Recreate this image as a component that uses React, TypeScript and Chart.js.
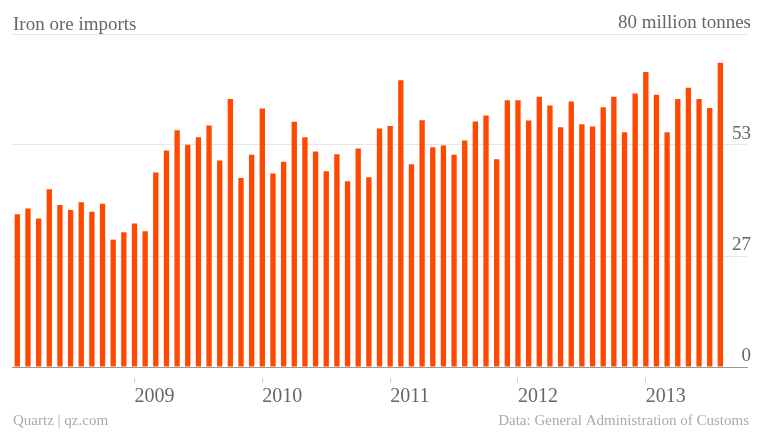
import React, { useEffect, useRef } from 'react';
import { Chart, registerables } from 'chart.js';

Chart.register(...registerables);

// Monthly iron ore imports, million tonnes, Jan 2008 .. Jul 2013
const FIRST_YEAR = 2008;
const importsMt: number[] = [
  36.7, 38.1, 35.7, 42.7, 38.9, 37.7, 39.6, 37.3, 39.2, 30.6, 32.4, 34.5,
  32.6, 46.7, 52.0, 56.9, 53.4, 55.2, 58.0, 49.6, 64.4, 45.4, 51.0, 62.1,
  46.5, 49.3, 58.9, 55.2, 51.8, 47.0, 51.1, 44.6, 52.5, 45.6, 57.3, 57.9,
  68.9, 48.7, 59.3, 52.8, 53.2, 51.0, 54.4, 59.0, 60.4, 49.9, 64.1, 64.1,
  59.2, 64.9, 62.8, 57.6, 63.8, 58.3, 57.8, 62.4, 64.9, 56.4, 65.7, 70.9,
  65.4, 56.4, 64.4, 67.1, 64.4, 62.2, 73.1,
];

// category labels: one per month (data dated at month end)
const months: string[] = importsMt.map((_, i) => {
  const y = FIRST_YEAR + Math.floor(i / 12);
  const m = (i % 12) + 1;
  return `${y}-${String(m).padStart(2, '0')}`;
});
// empty slots on the right, where the value labels sit
const trailingSlots: string[] = ['', ''];
const categories: string[] = [...months, ...trailingSlots];

const yTickValues: number[] = [0, 80 / 3, 160 / 3, 80];
const yTickLabels: string[] = ['0', '27', '53', '80 million tonnes'];

const titleText = 'Iron ore imports';
const creditText = 'Quartz | qz.com';
const sourceText = 'Data: General Administration of Customs';

const BAR_COLOR = '#ff4800';
const FONT = '"Liberation Serif", "Times New Roman", serif';

// year boundary falls on each December (month-end dated) bar
function yearLabel(index: number): string {
  const c = categories[index];
  if (!c) return '';
  const [y, m] = c.split('-');
  return m === '12' ? String(Number(y) + 1) : '';
}

const textPlugin = {
  id: 'qzText',
  afterDraw(chart: any) {
    const ctx = chart.ctx as CanvasRenderingContext2D;
    ctx.save();
    ctx.textBaseline = 'alphabetic';
    ctx.textAlign = 'left';
    ctx.font = `19px ${FONT}`;
    ctx.fillStyle = '#666666';
    ctx.fillText(titleText, 13, 30);
    ctx.font = `15px ${FONT}`;
    ctx.fillStyle = '#aaaaaa';
    ctx.fillText(creditText, 13, 425);
    ctx.textAlign = 'right';
    ctx.fillText(sourceText, 749, 425);
    ctx.restore();
  },
};

export default function App() {
  const canvasRef = useRef<HTMLCanvasElement | null>(null);

  useEffect(() => {
    if (!canvasRef.current) return;
    const chart = new Chart(canvasRef.current, {
      type: 'bar',
      data: {
        labels: categories,
        datasets: [
          {
            label: 'Iron ore imports',
            data: importsMt,
            backgroundColor: BAR_COLOR,
            borderWidth: 0,
            barPercentage: 0.5,
            categoryPercentage: 1.0,
          },
        ],
      },
      options: {
        responsive: false,
        animation: false,
        layout: { padding: { left: 12, right: 4, top: 34, bottom: 25 } },
        plugins: {
          legend: { display: false },
          tooltip: { enabled: false },
          title: { display: false },
        },
        scales: {
          x: {
            grid: {
              display: true,
              drawOnChartArea: false,
              drawTicks: true,
              tickLength: 16,
              offset: false,
              tickWidth: 1,
              tickColor: (c: any) => (yearLabel(c.index) ? '#cccccc' : 'rgba(0,0,0,0)'),
              tickBorderDash: [0, 10, 6, 100],
            },
            border: { display: true, color: '#999999', width: 1 },
            ticks: {
              autoSkip: false,
              maxRotation: 0,
              minRotation: 0,
              align: 'start',
              padding: 2,
              color: '#666666',
              font: { family: FONT, size: 20 },
              callback: (_v: any, i: number) => yearLabel(i),
            },
          },
          y: {
            position: 'right',
            min: 0,
            max: 80,
            afterBuildTicks: (s: any) => {
              s.ticks = yTickValues.map((value) => ({ value }));
            },
            grid: { color: '#e6e6e6', drawTicks: false, lineWidth: 1 },
            border: { display: false },
            ticks: {
              mirror: true,
              padding: 4,
              labelOffset: -11,
              color: '#666666',
              font: { family: FONT, size: 19 },
              callback: (_v: any, i: number) => yTickLabels[i],
            },
          },
        },
      },
      plugins: [textPlugin],
    } as any);
    return () => chart.destroy();
  }, []);

  return (
    <div style={{ position: 'fixed', left: 0, top: 0, width: 759, height: 436, background: '#fff' }}>
      <canvas ref={canvasRef} width={759} height={436} style={{ display: 'block' }} />
    </div>
  );
}
